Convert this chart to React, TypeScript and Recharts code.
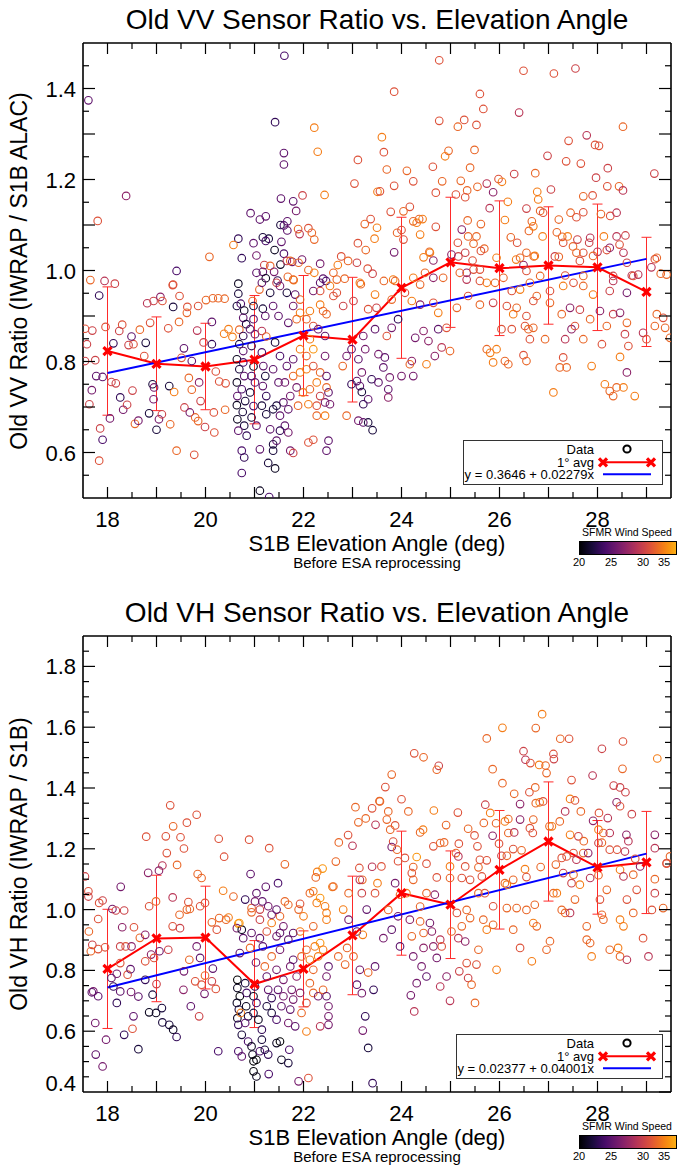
import React from 'react';
import { ComposedChart, Scatter, Line, XAxis, YAxis, ErrorBar } from 'recharts';

// 1 degree bins of S1B elevation angle
const avgAngles = [18, 19, 20, 21, 22, 23, 24, 25, 26, 27, 28, 29];

// bin means and std (error bars)
const vvAvg = [0.823, 0.795, 0.789, 0.804, 0.857, 0.848, 0.962, 1.018, 1.005, 1.011, 1.007, 0.953];
const vvStd = [0.141, 0.103, 0.095, 0.141, 0.132, 0.137, 0.155, 0.143, 0.148, 0.129, 0.139, 0.12];
const vhAvg = [0.805, 0.905, 0.908, 0.755, 0.805, 0.915, 1.054, 1.016, 1.131, 1.224, 1.139, 1.155];
const vhStd = [0.196, 0.208, 0.169, 0.143, 0.125, 0.195, 0.204, 0.177, 0.195, 0.196, 0.154, 0.168];

// linear fits [intercept, slope] from the legends
const vvFit = [0.3646, 0.02279];
const vhFit = [0.02377, 0.04001];

const xTicks = [18, 18.5, 19, 19.5, 20, 20.5, 21, 21.5, 22, 22.5, 23, 23.5, 24, 24.5, 25, 25.5, 26, 26.5, 27, 27.5, 28, 28.5, 29];
const vvYTicks = [0.55, 0.6, 0.65, 0.7, 0.75, 0.8, 0.85, 0.9, 0.95, 1.0, 1.05, 1.1, 1.15, 1.2, 1.25, 1.3, 1.35, 1.4, 1.45];
const vhYTicks = [0.4, 0.45, 0.5, 0.55, 0.6, 0.65, 0.7, 0.75, 0.8, 0.85, 0.9, 0.95, 1.0, 1.05, 1.1, 1.15, 1.2, 1.25, 1.3, 1.35, 1.4, 1.45, 1.5, 1.55, 1.6, 1.65, 1.7, 1.75, 1.8, 1.85];
const windTicks = [20, 25, 30, 35];

// [elevation angle, VV ratio, SFMR wind speed]
const vvPoints = [
  [21.61,1.472,24],[17.61,1.374,25],[21.42,1.326,23],[22.22,1.314,33],[22.29,1.261,33],[21.6,1.258,25],[21.6,1.233,25],[23.11,1.243,31],[23.04,1.191,31],[23.51,1.173,33],
  [18.38,1.164,27],[17.8,1.109,31],[21.54,1.158,25],[21.79,1.152,25],[21.98,1.165,30],[22.43,1.166,33],[21.85,1.131,26],[20.92,1.126,25],[21.11,1.112,25],[21.23,1.119,25],
  [21.53,1.1,22],[21.6,1.099,24],[21.67,1.108,25],[21.67,1.088,25],[21.89,1.091,32],[22.1,1.093,31],[22.17,1.083,32],[22.22,1.068,32],[21.92,1.08,29],[20.67,1.07,23],
  [21.17,1.073,22],[21.29,1.07,22],[21.23,1.065,24],[20.98,1.06,25],[21.55,1.063,25],[20.57,1.056,33],[21.41,1.045,21],[21.04,1.033,26],[20.74,1.027,23],[20.08,1.03,32],
  [19.41,0.999,24],[21.6,1.037,24],[21.53,1.013,21],[21.66,1.021,29],[21.77,1.019,26],[21.97,1.024,26],[22.34,1.015,26],[22.77,1.031,31],[22.91,1.021,32],[22.7,1.012,33],
  [23.11,1.06,31],[23.27,1.045,32],[23.37,1.113,31],[23.25,1.102,32],[23.5,1.094,33],[23.45,1.07,33],[23.31,1.004,31],[23.41,0.993,30],[17.65,0.979,32],[17.94,0.977,29],
  [18.15,0.971,30],[19.34,0.969,31],[21.2,1.012,30],[21.32,1.01,32],[21.04,0.995,25],[21.17,0.997,25],[21.23,0.983,21],[21.4,0.997,26],[21.47,0.978,23],[21.68,0.986,32],
  [21.8,0.979,33],[22.1,1.001,32],[22.22,0.995,33],[22.4,0.982,25],[22.46,0.977,24],[22.84,0.982,32],[23.17,0.97,32],
  [17.83,0.945,23],[17.69,0.868,30],[17.54,0.872,31],[17.58,0.838,30],[17.75,0.803,30],[17.54,0.801,30],[17.96,0.876,31],[18.12,0.84,23],[18.3,0.881,31],[18.24,0.867,30],
  [18.43,0.836,30],[18.53,0.838,31],[18.49,0.855,25],[17.77,0.768,25],[17.9,0.766,25],[18.08,0.755,30],[18.17,0.752,30],[17.68,0.737,26],[17.63,0.706,30],[17.85,0.653,30],
  [17.9,0.628,24],[17.83,0.582,31],[18.05,0.675,26],[18.26,0.721,23],[18.32,0.694,26],[18.4,0.705,30],[18.51,0.736,30],[18.56,0.663,32],[18.63,0.67,26],[18.78,0.841,22],
  [18.75,0.812,31],[18.66,0.87,32],[18.81,0.928,29],[18.94,0.933,30],[19.08,0.942,27],[19.12,0.933,31],[18.87,0.885,31],[18.92,0.75,22],[18.95,0.743,26],[18.94,0.717,26],
  [18.85,0.686,22],[19.05,0.673,26],[19.11,0.684,30],[19.0,0.65,22],[19.28,0.662,32],[19.26,0.746,22],[19.36,0.733,33],[19.24,0.873,31],[19.33,0.968,31],[19.47,0.944,31],
  [19.34,0.92,22],[19.63,0.92,31],[19.62,0.907,32],[19.46,0.887,32],[19.56,0.829,25],[19.51,0.808,31],[19.41,0.604,32],[19.77,0.595,31],[19.57,0.699,30],[19.68,0.688,26],
  [19.79,0.677,32],[19.85,0.669,32],[19.99,0.656,30],[20.18,0.644,31],[19.72,0.801,25],[19.66,0.764,32],[19.72,0.738,32],[19.87,0.754,27],[19.9,0.713,30],[19.83,0.868,29],
  [19.85,0.922,31],[20.01,0.935,32],[20.15,0.939,32],[20.26,0.939,32],[20.39,0.938,32],[20.13,0.887,25],[19.96,0.842,30],[20.13,0.838,23],[20.21,0.778,31],[20.17,0.688,31],
  [20.28,0.756,31],[20.41,0.752,31],[20.4,0.694,32],[20.38,0.861,33],[20.47,0.871,33],[20.55,0.854,33],
  [20.67,0.971,21],[20.67,0.949,22],[20.64,0.922,22],[20.72,0.927,24],[20.79,0.912,21],[20.77,0.896,25],[20.83,0.882,22],[20.69,0.87,32],[20.77,0.856,23],[20.69,0.838,22],
  [20.77,0.823,25],[20.64,0.805,21],[20.77,0.798,24],[20.69,0.783,22],[20.79,0.768,25],[20.64,0.754,21],[20.74,0.739,24],[20.65,0.724,25],[20.81,0.713,22],[20.64,0.704,21],
  [20.76,0.689,22],[20.65,0.673,21],[20.79,0.659,22],[20.67,0.648,25],[20.84,0.637,23],[20.74,0.604,24],[20.79,0.589,23],[20.74,0.555,24],[21.11,0.516,21],[21.3,0.502,24],
  [20.96,0.933,32],[20.98,0.922,22],[20.98,0.893,25],[20.91,0.871,25],[21.01,0.86,26],[20.94,0.834,23],[20.98,0.789,21],[20.94,0.768,24],[21.01,0.754,25],[20.91,0.732,22],
  [20.98,0.702,24],[20.94,0.677,22],[21.04,0.659,25],[21.11,0.607,25],[21.1,0.958,32],[21.15,0.973,25],[21.17,0.916,22],[21.22,0.9,25],[21.15,0.867,29],[21.24,0.855,32],
  [21.15,0.82,24],[21.18,0.79,25],[21.22,0.768,22],[21.17,0.746,25],[21.24,0.724,23],[21.15,0.703,22],[21.24,0.684,22],[21.32,0.651,25],[21.28,0.577,22],[21.42,0.565,21],
  [21.38,0.618,22],
  [21.73,1.021,32],[21.9,1.017,32],[21.45,0.973,30],[21.32,0.951,22],[21.38,0.922,25],[21.49,0.9,25],[21.52,0.966,26],[21.66,0.951,22],[21.79,0.98,32],[21.83,0.947,25],
  [21.93,0.936,32],[21.79,0.922,26],[21.69,0.885,25],[21.86,0.893,32],[21.93,0.907,33],[22.06,0.893,32],[22.13,0.911,33],[22.2,0.878,31],[22.34,0.925,33],[22.4,0.911,32],
  [22.3,0.871,26],[22.44,0.856,25],[22.13,0.849,33],[22.2,0.827,34],[22.06,0.812,32],[21.93,0.827,33],[21.79,0.805,25],[21.66,0.79,25],[21.52,0.812,24],[21.42,0.842,22],
  [21.38,0.783,25],[21.49,0.754,25],[21.62,0.754,26],[21.79,0.768,32],[21.93,0.776,33],[22.06,0.783,33],[22.2,0.79,31],[22.34,0.776,32],[22.44,0.812,26],[22.47,0.768,25],
  [22.27,0.754,33],[22.13,0.739,32],[21.99,0.732,33],[21.86,0.743,26],[21.73,0.724,26],[21.59,0.71,25],[21.45,0.703,22],[21.38,0.695,22],[21.52,0.681,25],[21.69,0.695,25],
  [21.89,0.703,32],[22.1,0.706,33],[22.27,0.703,31],[22.44,0.71,26],[22.34,0.724,30],[22.51,0.732,25],[22.47,0.743,32],[21.62,0.659,25],[21.69,0.644,26],[21.73,0.604,26],
  [21.79,0.599,30],[21.52,0.648,23],[21.45,0.626,25],[21.38,0.604,22],[22.1,0.622,31],[22.2,0.628,31],[22.51,0.626,25],[22.47,0.604,25],[22.44,0.681,33],[22.54,0.706,26],
  [22.27,0.681,32],[22.34,0.955,31],[22.61,0.995,32],[22.68,0.98,32],[22.54,0.966,33],[22.61,0.944,31],[22.47,0.904,32],[22.68,0.951,31],[22.34,0.973,25],[22.2,0.955,26],
  [23.09,1.017,30],[23.15,0.973,33],[23.02,0.933,30],[22.81,0.922,30],[23.32,0.915,31],[23.46,0.947,33],[23.49,0.918,30],[22.8,0.79,32],[22.88,0.812,26],[22.98,0.827,25],
  [23.12,0.805,25],[23.26,0.827,26],[23.22,0.856,26],[23.46,0.871,25],[23.19,0.776,26],[23.09,0.757,25],[22.98,0.75,23],[23.15,0.746,25],[23.19,0.733,22],[23.39,0.761,23],
  [23.53,0.754,25],[23.32,0.717,25],[23.22,0.706,23],[22.88,0.681,32],[23.12,0.67,26],[23.22,0.666,25],[23.32,0.666,22],[23.41,0.649,22],[23.53,0.816,26],
  [24.77,1.462,31],[23.85,1.393,31],[26.49,1.439,31],[27.11,1.433,31],[27.55,1.444,30],[25.6,1.388,31],[25.67,1.355,31],[26.4,1.347,29],[24.77,1.329,31],[25.28,1.331,31],
  [25.15,1.316,32],[25.53,1.32,31],[28.52,1.316,32],[23.6,1.293,33],[23.64,1.26,31],[24.96,1.263,32],[24.89,1.251,33],[25.49,1.265,32],[27.41,1.285,31],[27.78,1.297,29],
  [27.95,1.276,31],[28.03,1.274,31],[26.98,1.252,30],[27.36,1.24,31],[27.66,1.235,31],[28.21,1.225,30],[23.7,1.222,32],[24.11,1.219,32],[24.64,1.228,31],[25.4,1.226,32],
  [23.85,1.186,31],[24.24,1.196,31],[24.83,1.196,32],[25.21,1.197,32],[25.98,1.201,31],[26.05,1.195,33],[26.3,1.212,30],[25.74,1.191,29],[26.73,1.214,32],[27.97,1.204,30],
  [28.2,1.185,31],[28.44,1.185,32],[28.52,1.176,29],[29.16,1.213,30],[23.56,1.174,31],[24.7,1.171,31],[25.11,1.167,31],[25.34,1.176,32],[25.55,1.184,32],[25.87,1.172,27],
  [25.3,1.161,31],[26.77,1.173,33],[27.05,1.178,30],[27.71,1.163,32],[27.9,1.165,31],[26.79,1.156,33],[24.17,1.14,31],[24.04,1.13,32],[23.78,1.129,31],[25.8,1.137,29],
  [26.55,1.136,30],[26.17,1.151,33],[26.83,1.131,32],[26.89,1.127,31],[27.45,1.127,32],[27.71,1.128,31],[28.07,1.124,32],[28.26,1.12,31],[28.39,1.127,29],[24.24,1.108,32],
  [24.36,1.113,32],[24.43,1.113,33],[24.31,1.105,33],[25.35,1.11,32],[25.62,1.102,32],[26.11,1.111,33],[26.66,1.108,32],[27.21,1.112,32],[27.57,1.117,31],[24.7,1.096,31],
  [25.23,1.09,27],[23.91,1.083,32],[24.0,1.089,31],[24.04,1.068,31],[24.38,1.079,33],[25.36,1.075,32],[25.53,1.075,32],[25.15,1.061,31],[25.47,1.059,32],[25.69,1.048,32],
  [25.62,1.043,31],[26.23,1.073,32],[26.36,1.061,31],[26.6,1.087,32],[26.69,1.097,33],[26.88,1.075,33],[27.17,1.084,32],[27.28,1.074,32],[27.39,1.075,33],[27.3,1.061,31],
  [27.5,1.053,32],[27.59,1.068,30],[27.85,1.072,29],[27.83,1.061,30],[28.13,1.075,33],[28.39,1.075,29],[28.57,1.077,30],[28.45,1.057,31],[23.85,1.04,26],[24.45,1.029,33],
  [24.57,1.041,32],[24.65,1.022,27],[25.16,1.031,30],[25.3,1.039,30],[25.45,1.022,31],[26.55,1.039,32],[26.7,1.031,32],[26.34,1.024,33],[26.49,1.012,27],[27.13,1.031,30],
  [27.21,1.03,32],[27.64,1.021,31],[27.71,1.039,31],[28.0,1.041,29],[28.19,1.045,31],[28.25,1.05,27],[28.53,1.039,29],[28.6,1.017,30],[29.17,1.025,31],[29.1,1.007,29],
  [29.29,0.993,32],[28.7,0.989,29],[28.32,0.988,30],[27.71,0.988,32],[27.34,0.989,31],[26.83,0.988,32],[26.55,0.999,31],[25.6,1.002,31],[25.33,0.995,27],[24.85,0.984,32],
  [24.48,0.995,32],[23.64,0.977,32],[23.83,0.98,33],
  [23.87,0.977,32],[24.24,0.984,33],[24.38,0.969,32],[24.65,0.984,27],[25.19,0.995,32],[25.33,0.98,29],[25.47,1.002,31],[25.6,0.977,31],[25.74,0.973,33],[25.91,0.973,32],
  [26.08,0.984,32],[26.25,0.955,31],[26.42,0.958,33],[26.62,0.973,32],[26.76,0.944,32],[27.03,0.955,31],[27.3,0.966,33],[27.51,0.973,31],[27.71,0.966,32],[27.91,0.947,33],
  [28.25,0.955,30],[28.32,0.977,29],[28.6,0.951,26],[28.73,0.988,31],[28.83,0.991,29],[29.41,0.991,32],[24.58,1.039,33],[25.02,1.035,27],[25.94,1.028,33],[26.42,1.028,32],
  [26.72,1.032,33],[27.57,1.039,32],[27.91,1.032,32],[29.21,1.028,32],
  [23.8,0.936,32],[24.07,0.951,31],[24.21,0.933,33],[24.38,0.925,27],[24.65,0.929,31],[24.75,0.907,33],[25.13,0.918,32],[25.36,0.944,31],[25.6,0.925,32],[25.87,0.929,30],
  [26.15,0.922,31],[26.28,0.904,33],[26.35,0.918,32],[26.55,0.9,31],[26.69,0.933,31],[27.03,0.929,32],[27.27,0.904,32],[27.44,0.918,27],[27.64,0.914,30],[27.85,0.893,32],
  [28.05,0.911,27],[28.32,0.904,30],[28.46,0.907,27],[28.6,0.885,32],[29.21,0.904,32],[29.34,0.896,31],[29.48,0.852,32],[23.7,0.856,31],[23.8,0.874,26],[23.93,0.893,23],
  [24.28,0.852,26],[24.45,0.867,27],[24.55,0.845,27],[24.75,0.871,25],[24.92,0.874,31],[24.99,0.823,32],[24.68,0.812,27],[24.82,0.831,29],[24.51,0.794,33],[24.21,0.801,27],
  [24.0,0.768,26],[24.24,0.768,26],[23.66,0.809,25],[23.63,0.787,25],[23.76,0.765,26],[23.73,0.739,25],[23.73,0.721,27],[25.74,0.827,32],[25.81,0.819,33],[25.87,0.798,33],
  [25.94,0.827,33],[26.11,0.801,32],[26.18,0.794,32],[26.04,0.871,31],[26.25,0.871,31],[26.52,0.878,31],[26.59,0.871,32],[26.69,0.874,32],[26.49,0.814,31],[26.55,0.801,32],
  [26.62,0.849,31],[26.93,0.849,32],[27.1,0.732,33],[27.23,0.787,32],[27.3,0.809,31],[27.37,0.787,32],[27.34,0.849,29],[27.47,0.871,27],[27.54,0.878,31],[27.71,0.849,32],
  [27.88,0.79,33],[28.09,0.838,31],[28.15,0.75,33],[28.25,0.735,32],[28.32,0.724,32],[28.39,0.743,32],[28.53,0.743,33],[28.46,0.81,33],[28.6,0.776,27],[28.63,0.834,31],
  [28.56,0.86,30],[28.76,0.724,33],[28.93,0.863,29],[29.0,0.849,31],[29.17,0.878,32],[29.38,0.874,32],[24.17,0.794,32],[28.19,0.878,32],
];

// [elevation angle, VH ratio, SFMR wind speed]
const vhPoints = [
  [19.28,1.343,31],[19.82,1.312,31],[18.79,1.24,31],[19.19,1.241,31],[19.34,1.274,32],[19.62,1.286,31],[19.49,1.238,31],[19.56,1.201,31],[19.21,1.186,31],[19.12,1.145,29],
  [19.05,1.128,27],[18.83,1.121,27],[19.42,1.147,32],[19.84,1.117,32],[19.92,1.104,32],[20.27,1.233,31],[20.38,1.174,31],[20.89,1.23,31],[21.3,1.202,31],[21.62,1.149,32],
  [20.92,1.117,25],[21.48,1.087,24],[21.23,1.075,25],[17.54,1.109,30],[18.27,1.075,26],[23.06,1.337,32],[23.4,1.333,31],[23.12,1.287,32],[23.27,1.3,32],[23.47,1.279,29],
  [23.55,1.357,32],[22.91,1.245,31],[22.72,1.221,32],[23.0,1.21,29],[22.66,1.158,32],[23.14,1.137,31],[23.4,1.141,29],[23.2,1.098,32],[22.39,1.135,34],[22.28,1.124,33],
  [22.25,1.106,32],[22.59,1.075,33],[23.51,1.087,33],
  [20.36,1.062,33],[20.57,1.043,32],[17.61,1.06,31],[17.61,1.043,30],[17.9,1.03,30],[17.83,1.022,31],[18.1,1.002,26],[18.17,0.997,30],[18.34,0.997,30],[17.81,0.969,31],
  [17.62,0.928,32],[17.69,0.884,30],[17.81,0.87,31],[17.95,0.876,31],[17.66,0.863,32],[18.85,1.011,31],[18.99,1.027,32],[19.33,1.04,29],[19.47,0.983,32],[19.62,1.0,32],
  [19.68,1.002,32],[19.65,1.025,31],[19.89,1.011,31],[19.99,1.022,31],[20.13,0.958,32],[20.23,0.934,31],[20.28,0.972,32],[20.42,0.967,32],[20.47,0.974,33],[20.67,0.954,34],
  [20.94,1.005,32],[21.11,1.0,30],[21.28,1.011,26],[20.81,1.033,23],[21.04,1.054,25],[21.16,1.027,25],[20.94,0.991,32],[21.35,0.983,26],[21.52,0.978,32],[21.69,1.016,32],
  [21.93,1.019,31],[22.13,1.054,32],[22.2,1.06,33],[22.27,1.022,33],[22.44,1.011,33],[22.34,1.038,34],[22.47,0.989,33],[22.61,1.076,32],[22.81,1.0,33],[22.92,1.054,32],
  [23.19,1.054,30],[23.29,1.0,25],[23.46,1.054,31],[23.15,1.098,29],[22.92,0.967,26],[23.09,0.928,25],[23.21,0.917,33],[22.89,0.874,32],[22.71,0.846,32],[23.02,0.846,32],
  [22.85,0.819,32],[23.15,0.802,26],[23.32,0.793,32],[23.46,0.813,25],[23.43,0.736,23],[23.09,0.753,25],[23.19,0.725,26],[23.26,0.649,23],[23.21,0.602,26],[23.32,0.545,22],
  [23.41,0.429,23],[17.71,0.731,26],[17.81,0.715,25],[17.68,0.728,25],[18.08,0.775,25],[18.12,0.747,23],[18.19,0.693,23],[17.75,0.627,26],[17.97,0.572,26],[17.76,0.523,25],
  [17.9,0.484,26],[18.34,0.588,23],[18.51,0.608,31],[18.26,0.731,25],[18.48,0.729,26],[18.63,0.714,25],[18.63,0.541,22],[18.77,0.769,23],[18.85,0.662,21],[18.99,0.66,21],
  [19.12,0.629,22],[19.26,0.621,22],[19.34,0.605,21],[19.41,0.581,23],[18.92,0.72,22],[19.0,0.755,30],[19.11,0.676,22],[18.19,0.789,26],[18.26,0.824,31],[18.41,0.786,31],
  [18.47,0.804,25],[18.26,0.879,30],[18.37,0.879,31],[18.49,0.879,27],[18.3,0.942,27],[18.54,0.942,31],[18.66,0.907,32],[18.77,0.917,27],[18.89,0.852,27],[18.95,0.841,31],
  [19.06,0.863,26],[19.24,0.868,30],[18.77,0.83,31],[19.33,0.945,31],[19.48,0.939,30],[19.56,0.797,26],[19.67,0.835,32],[19.82,0.879,26],[19.89,0.841,25],[19.7,0.682,25],
  [19.87,0.649,30],[19.79,0.764,31],[19.92,0.753,31],[19.99,0.783,32],[20.13,0.764,30],[20.21,0.739,31],[20.15,0.806,25],[19.98,0.723,26],[19.55,0.736,27],[20.26,0.534,24],
  [18.53,0.649,25],
  [20.65,0.769,20],[20.65,0.742,21],[20.7,0.715,20],[20.64,0.693,21],[20.68,0.671,22],[20.65,0.643,21],[20.67,0.621,23],[20.74,0.588,22],[20.67,0.534,24],[20.74,0.517,25],
  [20.72,0.66,33],[20.81,0.758,22],[20.84,0.726,24],[20.83,0.682,21],[20.87,0.649,22],[20.81,0.627,25],[20.87,0.566,24],[20.94,0.55,21],[20.96,0.523,21],[20.98,0.501,20],
  [20.98,0.468,20],[21.04,0.451,21],[21.01,0.747,23],[20.98,0.715,21],[21.04,0.693,24],[20.98,0.66,22],[21.08,0.638,21],[21.15,0.605,23],[21.15,0.572,22],[21.11,0.534,24],
  [21.04,0.506,20],[21.21,0.539,22],[21.28,0.523,23],[21.29,0.459,24],[21.45,0.561,21],[21.52,0.566,20],[21.55,0.506,21],[21.69,0.495,22],[21.71,0.539,24],[20.7,0.857,25],
  [20.91,0.874,32],[20.77,0.906,25],[20.64,0.939,26],[20.74,0.934,21],[20.94,0.923,25],[21.11,0.906,25],[21.25,0.928,31],[21.17,0.879,25],[21.03,0.826,26],[21.21,0.813,32],
  [21.35,0.846,32],[21.52,0.868,26],[21.69,0.901,25],[21.25,0.78,25],[21.28,0.736,25],[21.35,0.709,23],[21.25,0.682,22],[21.35,0.66,22],[21.45,0.638,24],[21.55,0.682,25],
  [21.59,0.715,26],[21.48,0.736,25],[21.59,0.769,26],[21.45,0.802,26],[21.73,0.813,26],[21.79,0.835,25],[21.86,0.78,27],[21.76,0.736,26],[21.73,0.671,25],[21.69,0.627,26],
  [21.83,0.616,25],[21.79,0.704,26],[21.93,0.726,27],[21.96,0.66,32],[22.06,0.599,33],[21.9,0.435,26],[22.1,0.446,31],[21.96,0.846,32],[22.06,0.868,32],[22.13,0.835,33],
  [22.2,0.802,32],[22.3,0.846,33],[22.23,0.879,33],[22.34,0.89,34],[22.4,0.868,33],[22.13,0.758,32],[22.2,0.726,32],[22.06,0.693,31],[22.3,0.715,26],[22.4,0.736,32],
  [22.47,0.78,26],[22.51,0.813,25],[22.47,0.715,25],[22.51,0.682,26],[22.51,0.649,26],[22.34,0.616,29],[22.51,0.621,26],[22.0,0.978,33],[21.9,1.0,32],[22.2,0.945,32],
  [22.47,0.967,33],[21.93,0.928,33],[21.79,0.923,25],[21.59,0.945,26],[21.45,0.912,26],[21.35,0.956,33],[21.52,0.923,25],[21.11,0.967,30],[21.62,1.027,32],[21.45,1.0,25],
  [21.01,1.027,26],[20.69,0.956,34],
  [26.87,1.643,33],[26.06,1.598,33],[26.74,1.597,32],[25.74,1.563,32],[27.24,1.562,32],[27.42,1.562,31],[28.09,1.529,30],[28.52,1.553,31],[24.26,1.514,31],[24.45,1.501,32],
  [29.22,1.497,33],[26.49,1.521,30],[26.53,1.493,29],[26.63,1.482,31],[26.81,1.476,33],[26.94,1.474,32],[27.1,1.512,31],[27.11,1.495,30],[26.96,1.449,32],[24.76,1.473,30],
  [24.72,1.46,32],[25.86,1.462,32],[28.51,1.463,32],[27.9,1.441,29],[23.8,1.444,32],[23.67,1.403,31],[26.06,1.416,32],[26.3,1.381,32],[26.61,1.386,31],[26.73,1.402,32],
  [27.47,1.426,31],[28.33,1.408,30],[28.46,1.402,30],[28.57,1.386,30],[24.0,1.363,31],[23.73,1.323,32],[24.14,1.323,32],[23.56,1.356,32],[25.15,1.319,31],[24.66,1.326,33],
  [25.71,1.345,30],[25.81,1.318,33],[26.42,1.347,27],[26.74,1.35,32],[26.82,1.353,33],[26.89,1.356,31],[27.34,1.323,29],[27.44,1.364,33],[27.54,1.359,31],[27.66,1.323,32],
  [28.03,1.318,31],[28.21,1.301,29],[28.39,1.353,27],[28.46,1.34,31],[28.7,1.314,30],[23.7,1.296,32],[23.87,1.277,31],[23.77,1.263,32],[24.38,1.254,32],[24.44,1.263,33],
  [24.91,1.278,32],[25.36,1.266,32],[25.49,1.244,31],[25.68,1.285,32],[25.93,1.284,32],[25.86,1.243,27],[26.11,1.29,33],[26.18,1.298,32],[26.18,1.252,32],[26.3,1.254,29],
  [26.42,1.296,27],[26.62,1.268,31],[26.68,1.252,31],[26.69,1.296,32],[27.02,1.274,32],[27.07,1.274,33],[27.23,1.29,32],[27.44,1.246,33],[27.61,1.241,30],[27.72,1.225,32],
  [27.91,1.292,27],[28.02,1.263,33],[28.12,1.252,32],[28.25,1.252,29],[28.59,1.246,27],[28.63,1.225,29],[29.17,1.246,27],[29.17,1.202,29],[23.83,1.224,31],[23.8,1.206,26],
  [23.91,1.197,32],[23.93,1.159,31],[24.07,1.17,31],[24.24,1.14,32],[24.21,1.12,31],[24.31,1.173,34],[24.51,1.151,31],[24.65,1.208,31],[24.79,1.219,32],[24.87,1.221,32],
  [24.99,1.142,33],[25.11,1.186,32],[25.17,1.217,31],[25.3,1.142,31],[25.55,1.208,31],[25.57,1.139,32],[25.6,1.164,31],[25.74,1.162,31],[25.99,1.217,31],[26.04,1.177,30],
  [26.15,1.177,32],[26.28,1.199,31],[26.45,1.195,32],[26.52,1.133,33],[26.84,1.14,32],[27.15,1.148,32],[27.27,1.17,31],[27.37,1.175,31],[27.51,1.186,31],[27.57,1.164,29],
  [27.71,1.186,32],[27.81,1.186,27],[28.02,1.219,30],[28.09,1.22,32],[28.25,1.197,31],[28.4,1.197,31],[28.56,1.191,29],[28.77,1.167,31],[28.87,1.142,27],[29.17,1.1,32],
  [29.41,1.151,31],[29.48,1.175,32],[28.46,1.131,33],[28.53,1.109,29],[28.73,1.115,32],[28.02,1.113,32],[27.85,1.104,29],[27.51,1.115,32],[27.3,1.12,30],[26.55,1.107,31],
  [26.28,1.098,32],[26.15,1.082,33],[25.64,1.109,31],[25.4,1.098,31],[25.23,1.104,31],[24.99,1.104,32],[24.72,1.106,31],[23.87,1.087,26],[23.59,1.142,31],
  [23.97,1.049,32],[24.1,1.054,33],[24.24,1.098,32],[24.38,1.01,32],[24.51,1.054,32],[24.68,1.049,27],[23.73,0.999,32],[23.93,0.978,26],[24.17,0.967,27],[24.38,0.961,32],
  [24.58,0.956,26],[24.45,0.923,32],[24.62,0.928,27],[24.21,0.912,32],[23.97,0.879,25],[23.63,0.906,26],[23.8,0.934,25],[24.79,0.901,29],[24.82,0.879,31],[24.65,0.879,27],
  [24.45,0.874,27],[24.24,0.846,26],[24.72,0.841,26],[24.41,0.813,26],[24.51,0.78,25],[24.31,0.758,26],[24.19,0.718,26],[24.26,0.665,29],[24.79,0.747,29],[24.92,0.78,27],
  [24.99,0.7,29],[25.18,0.797,30],[25.36,0.775,30],[25.43,0.753,32],[25.5,0.693,32],[25.33,0.824,31],[25.53,0.819,31],[25.57,0.868,32],[25.94,0.802,33],[25.02,0.928,32],
  [25.16,0.906,29],[25.23,0.945,32],[25.3,0.895,27],[25.13,0.989,31],[25.33,0.999,32],[25.4,0.972,32],[25.67,0.967,32],[25.74,0.934,33],[25.87,0.95,32],[25.57,1.054,32],
  [25.7,1.054,31],[25.87,1.011,31],[26.11,1.087,32],[26.15,1.005,32],[26.28,0.934,32],[26.35,1.005,32],[26.42,0.874,31],[26.55,0.999,32],[26.69,0.956,33],[26.76,0.945,32],
  [26.66,0.83,33],[26.72,1.016,32],[26.96,0.868,32],[27.03,0.896,32],[27.1,1.054,32],[27.17,1.054,33],[27.27,0.999,32],[27.34,0.989,32],[27.44,0.989,29],[27.47,1.087,30],
  [27.54,1.033,32],[27.64,1.082,33],[27.78,0.945,32],[27.78,0.901,32],[27.85,0.89,32],[27.88,0.846,33],[28.09,0.983,32],[28.12,0.967,32],[28.05,1.033,31],[28.19,1.065,32],
  [28.25,0.868,32],[28.42,0.874,33],[28.46,0.846,32],[28.46,0.967,33],[28.53,0.945,33],[28.6,1.033,31],[28.6,0.835,29],[28.73,0.989,32],[28.8,1.065,31],[28.93,0.906,31],
  [29.04,0.846,29],[29.11,0.999,31],[29.17,1.054,30],[29.34,1.005,32],[29.41,1.153,31],[25.16,1.175,29],
];

// inferno colour table, used over 20..35 m/s
const INFERNO = ['#000004', '#160b39', '#420a68', '#6a176e', '#932667', '#bc3754', '#dd513a', '#f37819', '#fca50a', '#f6d746', '#fcffa4'];

const hex = (c: string) => [1, 3, 5].map((i) => parseInt(c.slice(i, i + 2), 16));
const inferno = (t: number) => {
  const u = Math.max(0, Math.min(1, t)) * 10;
  const i = Math.min(9, Math.floor(u));
  const f = u - i;
  const a = hex(INFERNO[i]);
  const b = hex(INFERNO[i + 1]);
  return `rgb(${a.map((v, k) => Math.round(v + (b[k] - v) * f)).join(',')})`;
};
const speedColor = (s: number) => inferno(((s - 20) / 15) * 0.82);

const FONT = '"Liberation Sans", Arial, Helvetica, sans-serif';
const onStep = (v: number, step: number) => Math.abs(v / step - Math.round(v / step)) < 1e-6;

const Ring = (p: any) => (
  <circle cx={p.cx} cy={p.cy} r={3.8} fill="none" stroke={speedColor(p.payload.s)} strokeWidth={1.1} />
);

const AvgDot = (p: any) => {
  const { cx, cy } = p;
  if (cx == null || cy == null) return null;
  return (
    <path
      d={`M${cx - 4},${cy - 4}L${cx + 4},${cy + 4}M${cx - 4},${cy + 4}L${cx + 4},${cy - 4}`}
      stroke="#ff0000"
      strokeWidth={3.2}
    />
  );
};

const BottomTick = (p: any) => {
  const v = p.payload.value;
  return (
    <g>
      <line x1={p.x} y1={p.y} x2={p.x} y2={p.y - (onStep(v, 1) ? 11 : 6)} stroke="#000" strokeWidth={1.2} />
      {onStep(v, 2) && (
        <text x={p.x} y={p.y + 29} textAnchor="middle" fontSize={22} fill="#000">
          {v}
        </text>
      )}
    </g>
  );
};

const TopTick = (p: any) => {
  const v = p.payload.value;
  return <line x1={p.x} y1={p.y} x2={p.x} y2={p.y + (onStep(v, 1) ? 11 : 6)} stroke="#000" strokeWidth={1.2} />;
};

const makeLeftTick = (majorStep: number, yMin: number) => (p: any) => {
  const v = p.payload.value;
  const atEdge = Math.abs(v - yMin) < 1e-6;
  return (
    <g>
      {!atEdge && (
        <line x1={p.x} y1={p.y} x2={p.x + (onStep(v, majorStep) ? 12 : 6)} y2={p.y} stroke="#000" strokeWidth={1.2} />
      )}
      {onStep(v, 0.2) && (
        <text x={p.x - 7} y={p.y + 8 - (atEdge ? 9 : 0)} textAnchor="end" fontSize={22} fill="#000">
          {v.toFixed(1)}
        </text>
      )}
    </g>
  );
};

const makeRightTick = (majorStep: number) => (p: any) => {
  const v = p.payload.value;
  return <line x1={p.x} y1={p.y} x2={p.x - (onStep(v, majorStep) ? 12 : 6)} y2={p.y} stroke="#000" strokeWidth={1.2} />;
};

type PanelProps = {
  top: number;
  height: number;
  bottomMargin: number;
  title: string;
  yLabel: string;
  points: number[][];
  avg: number[];
  std: number[];
  fit: number[];
  yDomain: [number, number];
  yTicks: number[];
  majorStep: number;
  legendLeft: number;
};

const Panel: React.FC<PanelProps> = ({
  top, height, bottomMargin, title, yLabel, points, avg, std, fit, yDomain, yTicks, majorStep, legendLeft,
}) => {
  const scatterData = points.map(([x, y, s]) => ({ x, y, s }));
  const avgData = avgAngles.map((x, i) => ({ x, y: avg[i], err: std[i] }));
  const x0 = avgAngles[0];
  const x1 = avgAngles[avgAngles.length - 1];
  const fitData = [
    { x: x0, y: fit[0] + fit[1] * x0 },
    { x: x1, y: fit[0] + fit[1] * x1 },
  ];
  const pb = height - bottomMargin; // plot bottom inside panel
  const plotMid = (43 + pb) / 2;
  const axisLine = { stroke: '#000', strokeWidth: 1.6 };

  return (
    <div style={{ position: 'absolute', left: 0, top, width: 679, height }}>
      <ComposedChart width={679} height={height} margin={{ top: 42, right: 7, bottom: bottomMargin - 30, left: 8 }}>
        <XAxis
          xAxisId={0}
          dataKey="x"
          type="number"
          domain={[17.5, 29.5]}
          allowDataOverflow
          ticks={xTicks}
          interval={0}
          height={30}
          tickSize={0}
          tickMargin={0}
          tickLine={false}
          axisLine={axisLine}
          tick={BottomTick}
        />
        <XAxis
          xAxisId="t"
          orientation="top"
          dataKey="x"
          type="number"
          domain={[17.5, 29.5]}
          allowDataOverflow
          ticks={xTicks}
          interval={0}
          height={1}
          tickSize={0}
          tickMargin={0}
          tickLine={false}
          axisLine={axisLine}
          tick={TopTick}
        />
        <YAxis
          yAxisId={0}
          dataKey="y"
          type="number"
          domain={yDomain}
          allowDataOverflow
          ticks={yTicks}
          interval={0}
          width={75}
          tickSize={0}
          tickMargin={0}
          tickLine={false}
          axisLine={axisLine}
          tick={makeLeftTick(majorStep, yDomain[0])}
        />
        <YAxis
          yAxisId="r"
          orientation="right"
          dataKey="y"
          type="number"
          domain={yDomain}
          allowDataOverflow
          ticks={yTicks}
          interval={0}
          width={1}
          tickSize={0}
          tickMargin={0}
          tickLine={false}
          axisLine={axisLine}
          tick={makeRightTick(majorStep)}
        />
        <Scatter data={scatterData} shape={Ring} isAnimationActive={false} />
        <Line
          data={avgData}
          dataKey="y"
          stroke="#ff0000"
          strokeWidth={2}
          dot={AvgDot}
          activeDot={false}
          isAnimationActive={false}
        >
          <ErrorBar dataKey="err" direction="y" width={5} stroke="#ff2a2a" strokeWidth={1} />
        </Line>
        <Line data={fitData} dataKey="y" stroke="#0000ff" strokeWidth={2} dot={false} activeDot={false} isAnimationActive={false} />
      </ComposedChart>

      <div style={{ position: 'absolute', left: 83, width: 588, top: 6, fontSize: 28, lineHeight: '28px', textAlign: 'center' }}>
        {title}
      </div>
      <div
        style={{
          position: 'absolute', left: 19 - 228, top: plotMid - 12, width: 456, height: 24,
          fontSize: 23, lineHeight: '24px', textAlign: 'center', transform: 'rotate(-90deg)', whiteSpace: 'nowrap',
        }}
      >
        {yLabel}
      </div>
      <div style={{ position: 'absolute', left: 83, width: 588, top: pb + 35, fontSize: 22, lineHeight: '22px', textAlign: 'center' }}>
        S1B Elevation Angle (deg)
      </div>
      <div style={{ position: 'absolute', left: 83, width: 588, top: pb + 57, fontSize: 15, lineHeight: '15px', textAlign: 'center' }}>
        Before ESA reprocessing
      </div>

      {/* legend */}
      <svg style={{ position: 'absolute', left: 440, top: pb - 58 }} width={239} height={46}>
        <rect x={legendLeft - 440 + 0.5} y={0.5} width={663 - legendLeft - 1} height={44} fill="#fff" stroke="#333" strokeWidth={1} />
        <text x={154} y={13.7} textAnchor="end" fontSize={13}>Data</text>
        <circle cx={187} cy={9} r={3.6} fill="none" stroke="#000" strokeWidth={2} />
        <text x={154} y={27} textAnchor="end" fontSize={13}>1° avg</text>
        <line x1={163} y1={22.3} x2={211} y2={22.3} stroke="#ff0000" strokeWidth={2} />
        <AvgDot cx={163} cy={22.3} />
        <AvgDot cx={211} cy={22.3} />
        <text x={154} y={39} textAnchor="end" fontSize={13}>{`y = ${fit[0]} + ${fit[1]}x`}</text>
        <line x1={163} y1={34.3} x2={211} y2={34.3} stroke="#0000ff" strokeWidth={2} />
      </svg>

      {/* wind speed colour bar */}
      <div style={{ position: 'absolute', left: 567, width: 120, top: pb + 29, fontSize: 10.5, lineHeight: '11px', textAlign: 'center' }}>
        SFMR Wind Speed
      </div>
      <div
        style={{
          position: 'absolute', left: 579, top: pb + 43, width: 96, height: 12, border: '1px solid #000',
          background: `linear-gradient(to right, ${Array.from({ length: 16 }, (_, i) => speedColor(20 + i)).join(', ')})`,
        }}
      />
      {windTicks.map((w) => (
        <div
          key={w}
          style={{
            position: 'absolute', left: Math.min(579 + ((w - 20) / 15) * 96, 664) - 12, width: 24,
            top: pb + 59, fontSize: 11, lineHeight: '11px', textAlign: 'center',
          }}
        >
          {w}
        </div>
      ))}
    </div>
  );
};

export default function App() {
  return (
    <div style={{ position: 'absolute', left: 0, top: 0, width: 679, height: 1165, background: '#fff', fontFamily: FONT, color: '#000', overflow: 'hidden' }}>
      <style>{'.recharts-errorBar line { stroke: #ff2a2a; stroke-width: 1; }'}</style>
      <Panel
        top={0}
        height={580}
        bottomMargin={82}
        title="Old VV Sensor Ratio vs. Elevation Angle"
        yLabel="Old VV Ratio (IWRAP / S1B ALAC)"
        points={vvPoints}
        avg={vvAvg}
        std={vvStd}
        fit={vvFit}
        yDomain={[0.5, 1.5]}
        yTicks={vvYTicks}
        majorStep={0.1}
        legendLeft={463}
      />
      <Panel
        top={593}
        height={572}
        bottomMargin={73}
        title="Old VH Sensor Ratio vs. Elevation Angle"
        yLabel="Old VH Ratio (IWRAP / S1B)"
        points={vhPoints}
        avg={vhAvg}
        std={vhStd}
        fit={vhFit}
        yDomain={[0.4, 1.9]}
        yTicks={vhYTicks}
        majorStep={0.2}
        legendLeft={456}
      />
    </div>
  );
}
